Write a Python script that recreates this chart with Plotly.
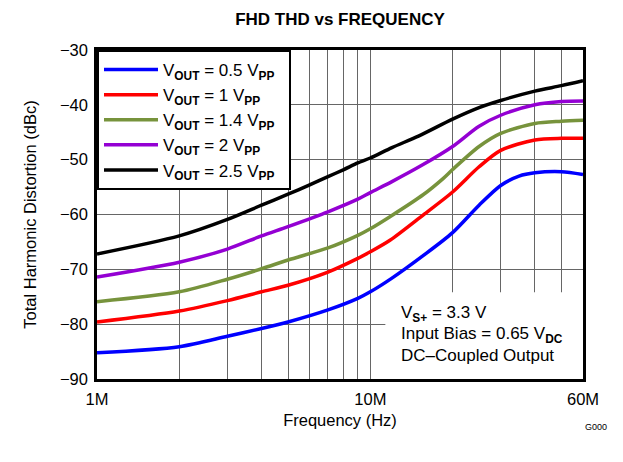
import plotly.graph_objects as go
import numpy as np

FONT = "Liberation Sans, Arial, sans-serif"

# Frequencies in MHz for each series
freq_black = [1, 2, 3, 4, 5, 6, 7, 8, 9, 10, 12, 15, 20, 25, 30, 40, 50, 60]
thd_black = [-67.2, -63.9, -60.9, -58.3, -56.3, -54.6, -53.1, -51.8, -50.6, -49.7, -47.8, -45.7, -42.6, -40.5, -39.2, -37.5, -36.5, -35.6]

freq_purple = [1, 2, 3, 4, 5, 7, 9, 10, 12, 15.6, 20, 25, 30, 40, 50, 60]
thd_purple = [-71.4, -68.7, -66.3, -63.9, -62.2, -59.5, -57.2, -56.0, -54.0, -50.9, -47.6, -43.9, -41.9, -40.0, -39.4, -39.3]

freq_green = [1, 2, 3, 4, 5, 7, 9, 10, 11.8, 15.6, 18.5, 20, 25, 30, 40, 50, 60]
thd_green = [-75.9, -74.1, -71.8, -69.9, -68.3, -66.1, -63.8, -62.6, -60.4, -56.4, -53.4, -51.8, -47.6, -45.2, -43.4, -43.0, -42.8]

freq_red = [1, 2, 3, 4, 5, 7, 9, 10, 11.8, 15.6, 20, 25, 30, 40, 50, 60]
thd_red = [-79.6, -77.6, -75.7, -74.1, -72.9, -70.5, -68.0, -66.8, -64.7, -60.1, -55.9, -51.3, -48.3, -46.4, -46.1, -46.1]

freq_blue = [1, 2, 3, 4, 5, 7, 9, 10, 12, 15.6, 20, 25, 30, 35, 40, 50, 60]
thd_blue = [-85.2, -84.1, -82.2, -80.8, -79.6, -77.4, -75.3, -74.1, -71.6, -67.5, -63.3, -58.3, -54.7, -53.0, -52.4, -52.2, -52.7]

NB = "\u00a0\u00a0"
series_names = [
    "V<sub><b>OUT</b></sub> = 0.5 V<sub><b>PP</b></sub>" + NB,
    "V<sub><b>OUT</b></sub> = 1 V<sub><b>PP</b></sub>" + NB,
    "V<sub><b>OUT</b></sub> = 1.4 V<sub><b>PP</b></sub>" + NB,
    "V<sub><b>OUT</b></sub> = 2 V<sub><b>PP</b></sub>" + NB,
    "V<sub><b>OUT</b></sub> = 2.5 V<sub><b>PP</b></sub>" + NB,
]
series_colors = ["#0000FF", "#FF0000", "#77933C", "#9400D3", "#000000"]
series_freqs = [freq_blue, freq_red, freq_green, freq_purple, freq_black]
series_thd = [thd_blue, thd_red, thd_green, thd_purple, thd_black]

x_tickvals = [1e6, 1e7, 6e7]
x_ticktext = ["1M", "10M", "60M"]
x_minor = [2e6, 3e6, 4e6, 5e6, 6e6, 7e6, 8e6, 9e6, 2e7, 3e7, 4e7, 5e7]
y_tickvals = [-90, -80, -70, -60, -50, -40, -30]

fig = go.Figure()
for i, (name, col, f, v) in enumerate(zip(series_names, series_colors, series_freqs, series_thd)):
    fig.add_trace(go.Scatter(
        x=[fv * 1e6 for fv in f], y=v, mode="lines", name=name,
        line=dict(color=col, width=3.5, shape="spline", smoothing=0.8),
        showlegend=True,
    ))

# white box behind the conditions text (covers grid)
fig.add_shape(type="rect", xref="x", yref="y", x0=11.35e6, x1=6e7, y0=-90, y1=-74.2,
              fillcolor="white", line=dict(width=0), layer="between")

# page body has an 8px margin: plot area on screen = 97..583 x 50..379
ML, MT = 89, 42
fig.update_layout(
    width=623, height=462,
    margin=dict(l=ML, r=623 - ML - 486, t=MT, b=462 - MT - 329),
    paper_bgcolor="white", plot_bgcolor="white",
    font=dict(family=FONT, size=16.5, color="black"),
    title=dict(text="<b>FHD THD vs FREQUENCY</b>", x=(340 - 8) / 623, xanchor="center",
               y=1 - 11 / 462, yanchor="middle", font=dict(size=17, family=FONT)),
    showlegend=True,
    legend=dict(x=0, y=1, xanchor="left", yanchor="top", bgcolor="white",
                bordercolor="black", borderwidth=2, font=dict(size=17, family=FONT),
                itemwidth=54, traceorder="normal"),
)

fig.update_xaxes(
    type="log", range=[6, np.log10(6e7)],
    tickvals=x_tickvals, ticktext=x_ticktext, ticks="", ticklen=0, ticklabelstandoff=3,
    showgrid=True, gridcolor="#666666", gridwidth=1,
    minor=dict(tickvals=x_minor, showgrid=True, gridcolor="#666666", gridwidth=1, ticks=""),
    showline=True, linecolor="black", linewidth=2.5, mirror=True,
    title=dict(text="Frequency (Hz)", font=dict(size=16.5), standoff=8),
    zeroline=False,
)
fig.update_yaxes(
    range=[-90, -30], tickvals=y_tickvals, ticks="", ticklen=0, ticklabelstandoff=3,
    showgrid=True, gridcolor="#666666", gridwidth=1,
    showline=True, linecolor="black", linewidth=2.5, mirror=True,
    title=dict(text="Total Harmonic Distortion (dBc)", font=dict(size=16.5), standoff=20),
    zeroline=False,
)

cond_lines = [
    "V<sub><b>S+</b></sub> = 3.3 V",
    "Input Bias = 0.65 V<sub><b>DC</b></sub>",
    "DC\u2013Coupled Output",
]
cond_y = [314, 335, 355]
for txt, py in zip(cond_lines, cond_y):
    fig.add_annotation(text=txt, xref="paper", yref="paper",
                       x=(399 - 97) / 486, y=(379 - py) / 329,
                       xanchor="left", yanchor="middle", showarrow=False,
                       font=dict(size=17, family=FONT), align="left")

fig.add_annotation(text="G000", xref="paper", yref="paper",
                   x=(596 - 97) / 486, y=(379 - 427) / 329,
                   xanchor="center", yanchor="middle", showarrow=False,
                   font=dict(size=9, family=FONT))

fig.write_html("out.html")
